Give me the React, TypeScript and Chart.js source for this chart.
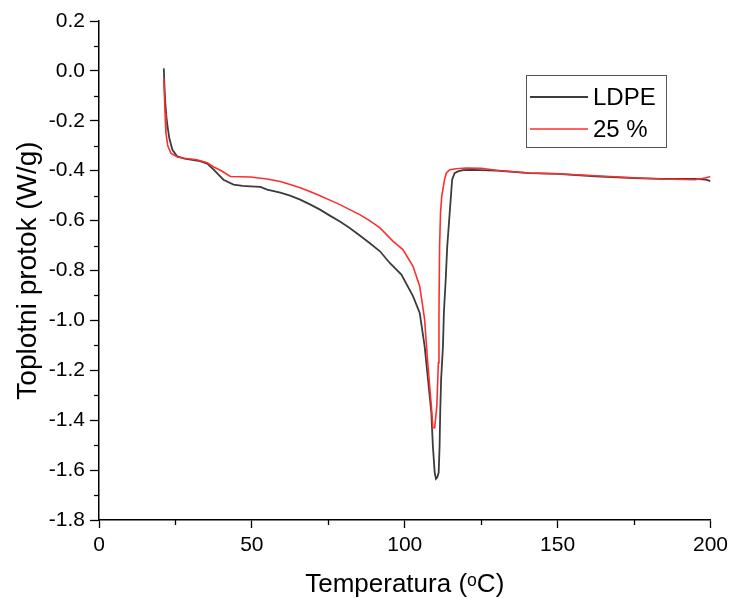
import React, { useEffect, useRef } from 'react';
import { Chart, registerables } from 'chart.js';

Chart.register(...registerables);

// ---- Data ----
const seriesLabels = ['LDPE', '25 %'];

const ldpeTemp = [
  21.2, 21.4, 21.7, 22.1, 22.4, 23.0, 24.0, 25.6, 28.0, 30.0, 33.0, 35.4, 37.5, 40.7, 44.0,
  47.0, 49.5, 52.8, 55.0, 59.3, 62.5, 65.8, 69.0, 72.3, 75.5, 78.8, 82.0, 85.3, 88.5, 91.9,
  95.1, 98.9, 102.7, 104.9, 106.5, 107.6, 108.7, 109.2, 109.8, 110.2, 110.6, 111.1, 111.4,
  111.6, 111.9, 112.5, 112.8, 113.4, 113.9, 114.7, 115.5, 116.3, 117.4, 119.0, 122.0, 130.0,
  140.7, 150.0, 162.4, 175.0, 184.1, 195.0, 198.5, 200.0,
];
const ldpeFlow = [
  0.01, -0.06, -0.13, -0.19, -0.22, -0.27, -0.316, -0.343, -0.352, -0.356, -0.362, -0.372,
  -0.396, -0.436, -0.456, -0.461, -0.463, -0.465, -0.476, -0.488, -0.5, -0.516, -0.535,
  -0.556, -0.58, -0.604, -0.63, -0.66, -0.69, -0.723, -0.77, -0.816, -0.903, -0.97, -1.103,
  -1.236, -1.37, -1.503, -1.61, -1.635, -1.63, -1.61, -1.503, -1.37, -1.236, -1.103, -0.97,
  -0.836, -0.703, -0.57, -0.436, -0.41, -0.403, -0.398, -0.397, -0.4, -0.41, -0.413, -0.423,
  -0.43, -0.433, -0.433, -0.436, -0.442,
];

const pe25Temp = [
  21.2, 21.4, 21.6, 21.9, 22.5, 23.5, 25.6, 28.0, 32.0, 35.4, 37.5, 40.0, 43.0, 49.5, 55.0,
  59.3, 62.5, 65.8, 69.0, 72.3, 75.5, 78.8, 82.0, 85.3, 88.5, 91.9, 96.2, 99.4, 102.7, 104.9,
  106.5, 107.6, 108.7, 109.2, 109.8, 110.5, 111.0, 111.2, 111.4, 111.7, 112.1, 113.0, 113.6,
  114.7, 116.8, 120.0, 125.0, 130.0, 140.7, 150.0, 162.4, 175.0, 184.1, 195.0, 198.2, 200.0,
];
const pe25Flow = [
  -0.03, -0.1, -0.17, -0.25, -0.3, -0.33, -0.345, -0.35, -0.356, -0.368, -0.385, -0.4,
  -0.423, -0.425, -0.433, -0.443, -0.455, -0.468, -0.483, -0.5, -0.518, -0.536, -0.556,
  -0.576, -0.6, -0.629, -0.683, -0.716, -0.783, -0.863, -0.996, -1.183, -1.343, -1.43, -1.43,
  -1.343, -1.17, -0.97, -0.703, -0.57, -0.503, -0.436, -0.409, -0.396, -0.392, -0.389, -0.39,
  -0.398, -0.409, -0.412, -0.42, -0.428, -0.433, -0.436, -0.429, -0.423,
];

const xMin = 0;
const xMax = 200;
const xStep = 50;
const yMin = -1.8;
const yMax = 0.2;
const yStep = 0.2;

const xTitle = 'Temperatura (ᵒC)';
const yTitle = 'Toplotni protok (W/g)';

const FONT = '"Liberation Sans", Arial, sans-serif';

const toPoints = (xs: number[], ys: number[]) => xs.map((x, i) => ({ x, y: ys[i] }));

// minor ticks halfway between major ticks, drawn outward
const minorTicks = {
  id: 'minorTicks',
  afterDraw(chart: any) {
    const { ctx, chartArea, scales } = chart;
    ctx.save();
    ctx.strokeStyle = '#000';
    ctx.lineWidth = 1.3;
    const xs = scales.x;
    const xt = xs.ticks.map((t: any) => t.value);
    for (let i = 0; i < xt.length - 1; i++) {
      const p = Math.round(xs.getPixelForValue((xt[i] + xt[i + 1]) / 2)) + 0.5;
      ctx.beginPath();
      ctx.moveTo(p, chartArea.bottom);
      ctx.lineTo(p, chartArea.bottom + 5);
      ctx.stroke();
    }
    const ys = scales.y;
    const yt = ys.ticks.map((t: any) => t.value);
    for (let i = 0; i < yt.length - 1; i++) {
      const p = Math.round(ys.getPixelForValue((yt[i] + yt[i + 1]) / 2)) + 0.5;
      ctx.beginPath();
      ctx.moveTo(chartArea.left, p);
      ctx.lineTo(chartArea.left - 5, p);
      ctx.stroke();
    }
    ctx.restore();
  },
};

// boxed legend inside the plot
const boxLegend = {
  id: 'boxLegend',
  afterDraw(chart: any) {
    const { ctx } = chart;
    const x0 = 526;
    const y0 = 75;
    const w = 140;
    const h = 72;
    ctx.save();
    ctx.strokeStyle = '#555';
    ctx.lineWidth = 1;
    ctx.strokeRect(x0 + 0.5, y0 + 0.5, w, h);
    chart.data.datasets.forEach((ds: any, i: number) => {
      const cy = y0 + 22 + i * 32;
      ctx.strokeStyle = ds.borderColor;
      ctx.lineWidth = ds.borderWidth;
      ctx.beginPath();
      ctx.moveTo(x0 + 4, cy);
      ctx.lineTo(x0 + 62, cy);
      ctx.stroke();
      ctx.fillStyle = '#000';
      ctx.font = `24px ${FONT}`;
      ctx.textBaseline = 'middle';
      ctx.textAlign = 'left';
      ctx.fillText(ds.label, x0 + 67, cy + 1);
    });
    ctx.restore();
  },
};

export default function App() {
  const canvasRef = useRef<HTMLCanvasElement | null>(null);

  useEffect(() => {
    document.body.style.margin = '0';
    const canvas = canvasRef.current;
    if (!canvas) return;
    const chart = new Chart(canvas, {
      type: 'scatter',
      data: {
        datasets: [
          {
            label: seriesLabels[0],
            data: toPoints(ldpeTemp, ldpeFlow),
            showLine: true,
            borderColor: '#3c3c3c',
            borderWidth: 1.8,
            pointRadius: 0,
            tension: 0,
            order: 1,
          },
          {
            label: seriesLabels[1],
            data: toPoints(pe25Temp, pe25Flow),
            showLine: true,
            borderColor: '#ff2e2e',
            borderWidth: 1.6,
            pointRadius: 0,
            tension: 0,
            order: 0,
          },
        ],
      },
      options: {
        responsive: false,
        animation: false,
        devicePixelRatio: 1,
        layout: { padding: { left: 0, right: 21, top: 21, bottom: 0 } },
        plugins: {
          legend: { display: false },
          tooltip: { enabled: false },
        },
        scales: {
          x: {
            type: 'linear',
            min: xMin,
            max: xMax,
            afterFit: (s: any) => {
              s.height = 79;
            },
            ticks: {
              stepSize: xStep,
              color: '#000',
              padding: 5,
              font: { family: FONT, size: 21 },
              maxRotation: 0,
            },
            grid: {
              drawOnChartArea: false,
              drawTicks: true,
              tickLength: 8,
              tickColor: '#000',
              tickWidth: 1.3,
            },
            border: { display: true, color: '#000', width: 1.5 },
            title: {
              display: true,
              text: xTitle,
              color: '#000',
              font: { family: FONT, size: 26, lineHeight: 1 },
              padding: { top: 0, bottom: 1 },
            },
          },
          y: {
            type: 'linear',
            min: yMin,
            max: yMax,
            afterFit: (s: any) => {
              s.width = 99;
            },
            ticks: {
              stepSize: yStep,
              color: '#000',
              padding: 5,
              font: { family: FONT, size: 21 },
              callback: (v: any) => {
                const n = Number(v);
                return (Math.abs(n) < 1e-9 ? 0 : n).toFixed(1);
              },
            },
            grid: {
              drawOnChartArea: false,
              drawTicks: true,
              tickLength: 9,
              tickColor: '#000',
              tickWidth: 1.3,
            },
            border: { display: true, color: '#000', width: 1.5 },
            title: {
              display: true,
              text: yTitle,
              color: '#000',
              font: { family: FONT, size: 28, lineHeight: 1 },
              padding: { top: 14, bottom: 0 },
            },
          },
        },
      },
      plugins: [minorTicks, boxLegend],
    });
    return () => chart.destroy();
  }, []);

  return (
    <div style={{ position: 'absolute', left: 0, top: 0, width: 733, height: 599 }}>
      <canvas ref={canvasRef} width={733} height={599} />
    </div>
  );
}
